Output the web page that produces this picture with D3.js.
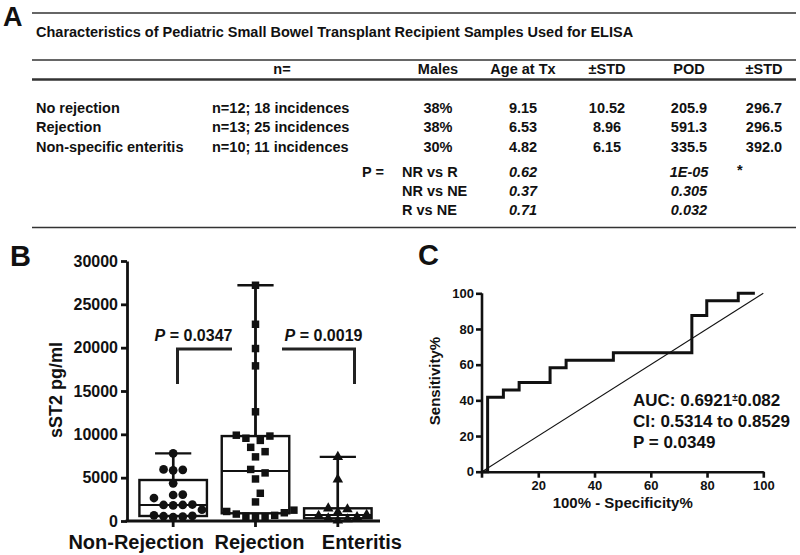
<!DOCTYPE html>
<html><head><meta charset="utf-8">
<script src="https://cdn.jsdelivr.net/npm/d3@7"></script>
<style>
body{margin:0;background:#fff;}
svg{display:block;font-family:"Liberation Sans",Arial,sans-serif;font-weight:bold;}
</style></head>
<body><svg id="c" width="800" height="555"></svg>
<script>
// ---------- Panel A data ----------
const tableTitle = "Characteristics of Pediatric Small Bowel Transplant Recipient Samples Used for ELISA";
const headers = ["n=", "Males", "Age at Tx", "\u00b1STD", "POD", "\u00b1STD"];
const groups = ["No rejection", "Rejection", "Non-specific enteritis"];
const nText = ["n=12; 18 incidences", "n=13; 25 incidences", "n=10; 11 incidences"];
const males = ["38%", "38%", "30%"];
const ageTx = ["9.15", "6.53", "4.82"];
const ageStd = ["10.52", "8.96", "6.15"];
const pod = ["205.9", "591.3", "335.5"];
const podStd = ["296.7", "296.5", "392.0"];
const comparisons = ["NR vs R", "NR vs NE", "R vs NE"];
const pAge = ["0.62", "0.37", "0.71"];
const pPod = ["1E-05", "0.305", "0.032"];
const pMark = ["*", "", ""];

// ---------- Panel B data ----------
const categories = ["Non-Rejection", "Rejection", "Enteritis"];
const nonRejection = [7800, 5950, 5900, 5850, 4350, 3050, 3000, 2650, 1900, 1850, 1850, 1800, 1300, 650, 600, 550, 500, 450];
const rejection = [27200, 22700, 19900, 17900, 12600, 9900, 9800, 9550, 9300, 8500, 8000, 7400, 5950, 5550, 4850, 3200, 2200, 1250, 1100, 950, 800, 650, 550, 450, 400];
const enteritis = [7400, 4800, 1450, 1350, 1000, 700, 600, 450, 300, 200, 50];
const q1 = [577, 890, 310];
const medians = [1846, 5770, 690];
const q3 = [4730, 9800, 1465];
const yTicksB = [0, 5000, 10000, 15000, 20000, 25000, 30000];
const pLabels = ["0.0347", "0.0019"];

// ---------- Panel C data ----------
const rocFpr  = [0, 2, 2, 7.6, 7.6, 13.2, 13.2, 24.2, 24.2, 29.9, 29.9, 46.7, 46.7, 74.6, 74.6, 79.9, 79.9, 91.1, 91.1, 97];
const rocSens = [0, 0, 41.7, 41.7, 45.8, 45.8, 50, 50, 58.3, 58.3, 62.5, 62.5, 66.7, 66.7, 87.5, 87.5, 95.8, 95.8, 100, 100];
const rocTicks = [0, 20, 40, 60, 80, 100];
const aucText = ["AUC: 0.6921", "\u00b1", "0.082"];
const ciText = "CI: 0.5314 to 0.8529";
const pRoc = "P = 0.0349";

const svg = d3.select("#c");
const ink = "#111";

// ================= PANEL A =================
svg.append("text").attr("x", 3).attr("y", 26).attr("font-size", 27).attr("fill", ink).text("A");
const lineA = (y, w) => svg.append("line").attr("x1", 32).attr("x2", 796).attr("y1", y).attr("y2", y)
  .attr("stroke", "#333").attr("stroke-width", w);
lineA(13, 1.6); lineA(60, 1.4); lineA(79.5, 2.6); lineA(227.5, 1.6);
const tA = svg.append("g").attr("font-size", 14.5).attr("fill", ink);
tA.append("text").attr("x", 36).attr("y", 36.7).text(tableTitle);
const colX = [282, 438, 523, 607, 689, 764];
headers.forEach((h, i) => tA.append("text").attr("x", colX[i]).attr("y", 74).attr("text-anchor", "middle").text(h));
const rowY = [112.5, 132, 151.5];
groups.forEach((g, i) => {
  tA.append("text").attr("x", 36).attr("y", rowY[i]).text(g);
  tA.append("text").attr("x", 212).attr("y", rowY[i]).text(nText[i]);
  [males[i], ageTx[i], ageStd[i], pod[i], podStd[i]].forEach((v, j) =>
    tA.append("text").attr("x", colX[j + 1]).attr("y", rowY[i]).attr("text-anchor", "middle").text(v));
});
const pY = [176.5, 196, 215];
tA.append("text").attr("x", 362).attr("y", pY[0]).text("P =");
comparisons.forEach((c, i) => {
  tA.append("text").attr("x", 402).attr("y", pY[i]).text(c);
  tA.append("text").attr("x", colX[2]).attr("y", pY[i]).attr("text-anchor", "middle").attr("font-style", "italic").text(pAge[i]);
  tA.append("text").attr("x", colX[4]).attr("y", pY[i]).attr("text-anchor", "middle").attr("font-style", "italic").text(pPod[i]);
  if (pMark[i]) tA.append("text").attr("x", 737).attr("y", pY[i] - 2).text(pMark[i]);
});

// ================= PANEL B =================
svg.append("text").attr("x", 10).attr("y", 265.7).attr("font-size", 29).attr("fill", ink).text("B");
const yB = d3.scaleLinear().domain([0, 30000]).range([521, 261]);
const xB = d3.scaleBand().domain(categories).range([132, 379]);
const gB = svg.append("g");
const yAxB = gB.append("g").attr("transform", "translate(127,0)")
  .call(d3.axisLeft(yB).tickValues(yTicksB).tickSize(6).tickSizeOuter(0).tickPadding(3).tickFormat(d3.format("d")))
  .attr("font-family", null).attr("font-size", null);
yAxB.selectAll("path,line").attr("stroke", ink).attr("stroke-width", 2.8);
yAxB.selectAll("text").attr("font-size", 16).attr("fill", ink);
const xAxB = gB.append("g").attr("transform", "translate(0,521)")
  .call(d3.axisBottom(xB).tickSize(6).tickSizeOuter(0).tickPadding(10))
  .attr("font-family", null).attr("font-size", null);
xAxB.select("path.domain").attr("d", "M125.6,0H380");
xAxB.selectAll("path,line").attr("stroke", ink).attr("stroke-width", 2.8);
const labelShift = [-37, 4, 24];
xAxB.selectAll("text").attr("font-size", 20).attr("fill", ink).attr("dy", "0.6em")
  .attr("dx", (d, i) => labelShift[i]);
gB.append("text").attr("transform", "translate(62,390) rotate(-90)").attr("text-anchor", "middle")
  .attr("font-size", 18).attr("fill", ink).text("sST2 pg/ml");

const series = [nonRejection, rejection, enteritis];
const bw = xB.bandwidth();
function swarm(vals, dia, step) {
  const sorted = vals.slice().sort((a, b) => a - b);
  const placed = [];
  sorted.forEach(v => {
    const py = yB(v);
    const cands = [0];
    for (let j = 1; j < 30; j++) cands.push(j * step, -j * step);
    let off = 0;
    for (const c of cands) { if (placed.every(p => Math.hypot(p.x - c, p.y - py) >= dia)) { off = c; break; } }
    placed.push({ x: off, y: py, v });
  });
  return placed;
}
series.forEach((vals, i) => {
  const cx = xB(categories[i]) + bw / 2;
  const half = bw * 0.41, cap = bw * 0.22;
  const g = gB.append("g").attr("stroke", ink).attr("stroke-width", 2.4).attr("fill", "none");
  g.append("line").attr("x1", cx).attr("x2", cx).attr("y1", yB(d3.min(vals))).attr("y2", yB(d3.max(vals)));
  g.append("line").attr("x1", cx - cap).attr("x2", cx + cap).attr("y1", yB(d3.max(vals))).attr("y2", yB(d3.max(vals)));
  g.append("rect").attr("x", cx - half).attr("width", 2 * half).attr("y", yB(q3[i])).attr("height", yB(q1[i]) - yB(q3[i]))
    .attr("fill", "#fff");
  g.append("line").attr("x1", cx).attr("x2", cx).attr("y1", yB(d3.max(vals))).attr("y2", yB(q3[i]));
  g.append("line").attr("x1", cx - half).attr("x2", cx + half).attr("y1", yB(medians[i])).attr("y2", yB(medians[i])).attr("stroke-width", 1.8);
  const pts = swarm(vals, i === 2 ? 7.5 : 9.6, 4.8);
  const sym = [d3.symbolCircle, d3.symbolSquare, d3.symbolTriangle][i];
  const size = [60, 56, 48][i];
  gB.append("g").selectAll("path").data(pts).join("path")
    .attr("transform", d => `translate(${cx + d.x},${d.y})`)
    .attr("d", d3.symbol(sym, size)).attr("fill", ink);
});
// significance brackets
const brY = 349, brBottom = 384;
const br = gB.append("g").attr("stroke", "#222").attr("stroke-width", 3).attr("fill", "none");
br.append("path").attr("d", `M177.5,${brBottom}V${brY}H232`);
br.append("path").attr("d", `M282,${brY}H354.5V${brBottom}`);
[193.5, 323.5].forEach((x, i) => {
  const t = gB.append("text").attr("x", x).attr("y", 341).attr("text-anchor", "middle").attr("font-size", 16).attr("fill", ink);
  t.append("tspan").attr("font-style", "italic").text("P");
  t.append("tspan").text(" = " + pLabels[i]);
});

// ================= PANEL C =================
svg.append("text").attr("x", 418).attr("y", 265).attr("font-size", 29).attr("fill", ink).text("C");
const xC = d3.scaleLinear().domain([0, 100]).range([482, 763.3]);
const yC = d3.scaleLinear().domain([0, 100]).range([471.7, 293.3]);
const gC = svg.append("g");
const yAxC = gC.append("g").attr("transform", `translate(${xC(0)},0)`)
  .call(d3.axisLeft(yC).tickValues(rocTicks).tickSize(6).tickSizeOuter(0).tickPadding(2))
  .attr("font-family", null).attr("font-size", null);
yAxC.select("path.domain").attr("d", `M0,${yC(100)}V${yC(0) + 6}`);
yAxC.selectAll("path,line").attr("stroke", ink).attr("stroke-width", 2.6);
yAxC.selectAll("text").attr("font-size", 13).attr("fill", ink);
const xAxC = gC.append("g").attr("transform", `translate(0,${yC(0)})`)
  .call(d3.axisBottom(xC).tickValues(rocTicks.slice(1)).tickSize(6).tickSizeOuter(0).tickPadding(3))
  .attr("font-family", null).attr("font-size", null);
xAxC.selectAll("path,line").attr("stroke", ink).attr("stroke-width", 2.6);
xAxC.selectAll("text").attr("font-size", 13).attr("fill", ink);
gC.append("text").attr("x", 622.7).attr("y", 508).attr("text-anchor", "middle").attr("font-size", 15).attr("fill", ink).text("100% - Specificity%");
gC.append("text").attr("transform", "translate(440,381) rotate(-90)").attr("text-anchor", "middle")
  .attr("font-size", 15).attr("fill", ink).text("Sensitivity%");
gC.append("line").attr("x1", xC(0)).attr("y1", yC(0)).attr("x2", xC(100)).attr("y2", yC(100))
  .attr("stroke", ink).attr("stroke-width", 1.1);
const rocPts = rocFpr.map((f, i) => [f, rocSens[i]]);
gC.append("path").datum(rocPts).attr("d", d3.line().x(d => xC(d[0])).y(d => yC(d[1])))
  .attr("fill", "none").attr("stroke", ink).attr("stroke-width", 3);
const tc = gC.append("g").attr("font-size", 17).attr("fill", ink);
const a1 = tc.append("text").attr("x", 633).attr("y", 406);
a1.append("tspan").text(aucText[0]);
a1.append("tspan").attr("font-size", 10).attr("dy", -5).text(aucText[1]);
a1.append("tspan").attr("dy", 5).text(aucText[2]);
tc.append("text").attr("x", 633).attr("y", 427).text(ciText);
tc.append("text").attr("x", 633).attr("y", 448).text(pRoc);
</script></body></html>
